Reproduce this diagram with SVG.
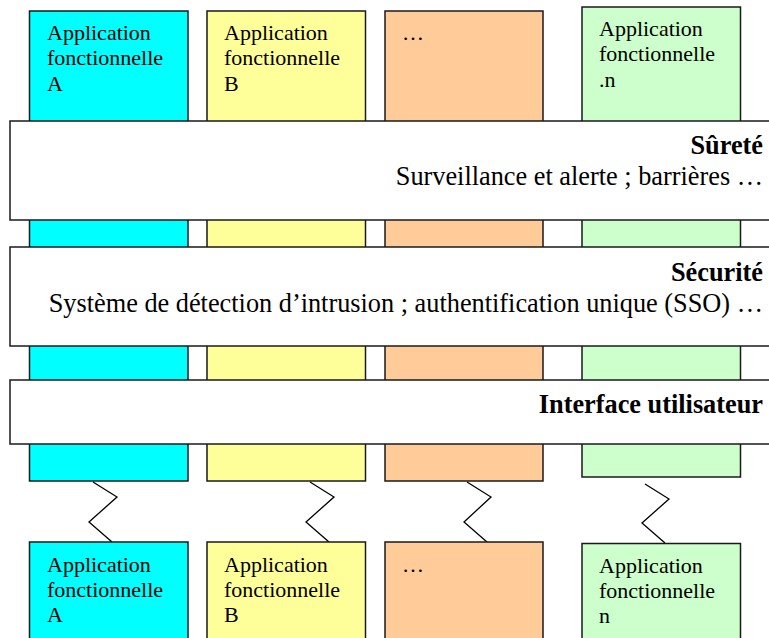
<svg xmlns="http://www.w3.org/2000/svg" width="769" height="638" viewBox="0 0 769 638" font-family="'Liberation Serif', 'Times New Roman', 'DejaVu Serif', serif">
<style>
.box{stroke:#1a1a1a;stroke-width:1.5}
.cyan{fill:#00FFFF}.yellow{fill:#FFFF99}.orange{fill:#FFCC99}.green{fill:#CCFFCC}
.band{fill:#FFFFFF;stroke:#1a1a1a;stroke-width:1.5}
.t{font-size:22px;fill:#000}
.bt{font-size:26.3px;fill:#000;text-anchor:end}
.b{font-weight:bold}
.zz{fill:none;stroke:#000;stroke-width:1.3}
</style>
<rect width="769" height="638" fill="#FFFFFF"/>
<g id="colA"><rect class="box cyan" x="29.5" y="11" width="158.5" height="470"/>
<text class="t" x="47" y="40">Application</text><text class="t" x="47" y="65">fonctionnelle</text><text class="t" x="47" y="91">A</text></g>
<g id="colB"><rect class="box yellow" x="207" y="11" width="158.5" height="470"/>
<text class="t" x="224" y="40">Application</text><text class="t" x="224" y="65">fonctionnelle</text><text class="t" x="224" y="91">B</text></g>
<g id="colC"><rect class="box orange" x="385" y="11" width="158" height="470"/>
<text class="t" x="402" y="40">…</text></g>
<g id="colN"><rect class="box green" x="582" y="7" width="158.5" height="470"/>
<text class="t" x="599" y="36">Application</text><text class="t" x="599" y="61">fonctionnelle</text><text class="t" x="599" y="87">.n</text></g>
<g id="surete"><rect class="band" x="10" y="121" width="775" height="99"/>
<text class="bt b" x="763" y="154">Sûreté</text><text class="bt" x="763" y="185">Surveillance et alerte ; barrières …</text></g>
<g id="securite"><rect class="band" x="10" y="247" width="775" height="99"/>
<text class="bt b" x="763" y="281">Sécurité</text><text class="bt" x="763" y="312">Système de détection d’intrusion ; authentification unique (SSO) …</text></g>
<g id="interface"><rect class="band" x="10" y="380" width="775" height="64"/>
<text class="bt b" x="763" y="413">Interface utilisateur</text></g>
<g id="connectors">
<polyline class="zz" points="93,482 117,497 89,522 112,542"/>
<polyline class="zz" points="310,482 334,497 306,522 329,542"/>
<polyline class="zz" points="467,482 491,497 464,522 487,542"/>
<polyline class="zz" points="645,484 669,499 642,523 665,543"/>
</g>
<g id="botA"><rect class="box cyan" x="29.5" y="542" width="158.5" height="110"/>
<text class="t" x="47" y="572">Application</text><text class="t" x="47" y="597">fonctionnelle</text><text class="t" x="47" y="622">A</text></g>
<g id="botB"><rect class="box yellow" x="207" y="542" width="158.5" height="110"/>
<text class="t" x="224" y="572">Application</text><text class="t" x="224" y="597">fonctionnelle</text><text class="t" x="224" y="622">B</text></g>
<g id="botC"><rect class="box orange" x="385" y="542" width="158" height="110"/>
<text class="t" x="402" y="572">…</text></g>
<g id="botN"><rect class="box green" x="582" y="543.5" width="158.5" height="110"/>
<text class="t" x="599" y="573">Application</text><text class="t" x="599" y="598">fonctionnelle</text><text class="t" x="599" y="623">n</text></g>
</svg>
